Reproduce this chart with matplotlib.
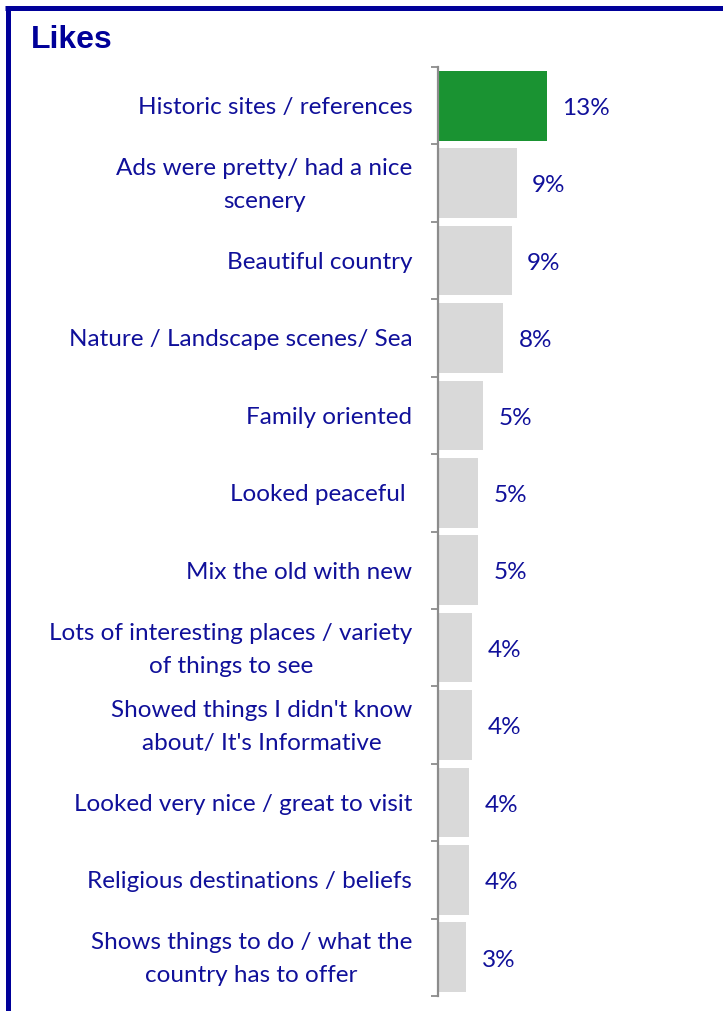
import matplotlib
matplotlib.use("Agg")
import matplotlib.pyplot as plt
from matplotlib.lines import Line2D

categories = [
    "Historic sites / references",
    "Ads were pretty/ had a nice\nscenery",
    "Beautiful country",
    "Nature / Landscape scenes/ Sea",
    "Family oriented",
    "Looked peaceful ",
    "Mix the old with new",
    "Lots of interesting places / variety\nof things to see",
    "Showed things I didn't know\nabout/ It's Informative",
    "Looked very nice / great to visit",
    "Religious destinations / beliefs",
    "Shows things to do / what the\ncountry has to offer",
]
values = [13.0, 9.4, 8.8, 7.8, 5.4, 4.8, 4.8, 4.1, 4.1, 3.7, 3.7, 3.4]
value_labels = ["13%", "9%", "9%", "8%", "5%", "5%", "5%", "4%", "4%", "4%", "4%", "3%"]
highlight = [True] + [False] * 11
title = "Likes"

TEXT = "#10109a"
BORDER = "#000099"
GREEN = "#1a9332"
GREY = "#d9d9d9"
SPINE = "#8c8c8c"

W, H = 723, 1011
fig = plt.figure(figsize=(W / 100, H / 100), dpi=100)

ax_left = 438 / W
px_per = 8.38
xmax = 30
ax_w = xmax * px_per / W
ax_top = 67
ax_bot = 996
ax = fig.add_axes([ax_left, 1 - ax_bot / H, ax_w, (ax_bot - ax_top) / H])

n = len(categories)
ypos = list(range(n))
colors = [GREEN if h else GREY for h in highlight]
ax.barh(ypos, values, height=0.9, color=colors, edgecolor="none")
ax.set_ylim(n - 0.5, -0.5)
ax.set_xlim(0, xmax)

FS = 17.5
for y, v, lab in zip(ypos, values, value_labels):
    ax.annotate(lab, (v, y), xytext=(11, -2), textcoords="offset points",
                ha="left", va="center", fontsize=FS, color=TEXT, family="Lato")

# category labels
for y, cat in zip(ypos, categories):
    multi = "\n" in cat
    ax.annotate(cat, xy=(0, y), xycoords=ax.get_yaxis_transform(),
                xytext=(-18.5, -1.5 if multi else 0), textcoords="offset points",
                ha="right", va="center" if multi else "center_baseline",
                multialignment="center", linespacing=1.72,
                fontsize=FS, color=TEXT, family="Lato")

ax.set_yticks([])
ax.set_yticks([i - 0.5 for i in range(n + 1)], minor=True)
ax.tick_params(axis="y", which="minor", length=5, width=1.3, color=SPINE, direction="out")
ax.set_xticks([])
for s in ["top", "right", "bottom"]:
    ax.spines[s].set_visible(False)
ax.spines["left"].set_color(SPINE)
ax.spines["left"].set_linewidth(1.6)
ax.set_facecolor("none")

# title
fig.text(31 / W, 1 - 48 / H, title, fontsize=23, fontweight="bold", color=BORDER,
         family="Liberation Sans", ha="left", va="baseline")

# border (top and left)
fig.add_artist(Line2D([7.5 / W, 7.5 / W], [0, 1 - 7.5 / H], color=BORDER, lw=3.6,
                      transform=fig.transFigure, solid_capstyle="butt"))
fig.add_artist(Line2D([5 / W, 1], [1 - 7.5 / H, 1 - 7.5 / H], color=BORDER, lw=3.6,
                      transform=fig.transFigure, solid_capstyle="butt"))

fig.savefig("out.png", dpi=100)
